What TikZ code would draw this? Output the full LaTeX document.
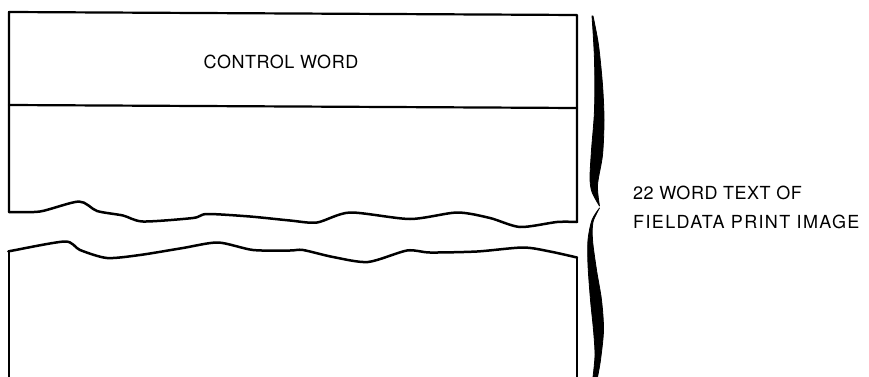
\documentclass[tikz,border=0pt]{standalone}
\usepackage{fontspec}
\newfontfamily\lblfont[LetterSpace=3]{TeX Gyre Heros}
\newfontfamily\lblwidefont[LetterSpace=7.5]{TeX Gyre Heros}
\begin{document}
\begin{tikzpicture}[x=1pt,y=-1pt,
  boxline/.style={line width=2.2pt,line join=round,line cap=round},
  wave/.style={line width=2.5pt,line join=round,line cap=round},
  lbl/.style={inner sep=0pt,font=\lblfont\fontsize{18}{20}\selectfont},
  lblwide/.style={inner sep=0pt,font=\lblwidefont\fontsize{18}{20}\selectfont}]
\useasboundingbox (0,0) rectangle (869,377);
% upper piece
\draw[boxline] (9,212) -- (9,12) -- (577,15) -- (577,222);
\draw[boxline] (9,105) -- (577,108);
\draw[wave] plot[smooth,tension=0.45] coordinates {(9,212) (40,211.5) (79,201.5) (97,211) (123,215.5) (143,221.5) (193,218) (207,214) (250,216.5) (290,220.5) (317,222.5) (350,212.5) (410,219) (457,212.5) (490,218) (520,227) (557,222) (577,222)};
% lower piece
\draw[boxline] (9,377) -- (9,251.5);
\draw[boxline] (577,257.5) -- (577,377);
\draw[wave] plot[smooth,tension=0.45] coordinates {(9,251.5) (13,250.5) (65,241.5) (80,250) (107,258) (140,255) (183,248) (218,242.5) (253,250) (290,250.5) (303,250) (333,257) (368,262) (407,250.5) (430,252.5) (477,251.5) (523,247.5) (550,251.5) (577,257.5)};
% brace
\filldraw[line width=0.8pt,line join=round] plot[smooth,tension=0.5] coordinates {(593,16) (598.5,45) (602.5,85) (604,120) (602.5,155) (597.5,185) (599.5,206)}
  -- plot[smooth,tension=0.5] coordinates {(599.5,206) (592,192) (590,178) (591.5,150) (594.5,110) (594.5,60) (592,16)} -- cycle;
\filldraw[line width=0.8pt,line join=round] plot[smooth,tension=0.5] coordinates {(599.5,208) (593,222) (592.5,240) (596.5,270) (601.5,300) (603.5,330) (600.5,360) (597.5,377)}
  -- plot[smooth,tension=0.5] coordinates {(593,377) (595,355) (593.5,330) (590.5,300) (588,265) (588,240) (592,220) (599.5,208)} -- cycle;
% texts
\node[lbl,anchor=base] (cw) at (281,68.5) {CONTROL WORD};
\node[lbl,anchor=base west] (lbla) at (633,199.5) {22 WORD TEXT OF};
\node[lblwide,anchor=base west] (lblb) at (633,228.5) {FIELDATA PRINT IMAGE};
\end{tikzpicture}
\end{document}
